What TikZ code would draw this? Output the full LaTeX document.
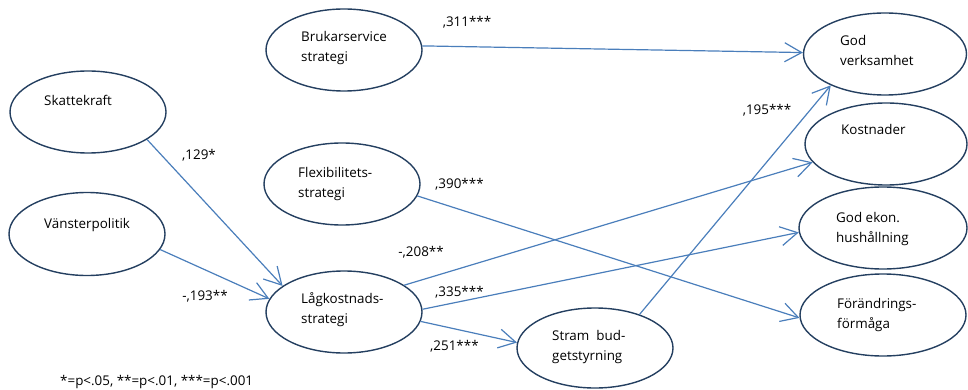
\documentclass[tikz,border=0pt]{standalone}
\usepackage{fontspec}
\setmainfont{Open Sans}
\usetikzlibrary{shapes.geometric,arrows.meta}
\definecolor{ellcol}{HTML}{243F60}
\definecolor{arrcol}{HTML}{4A7EBB}
\tikzset{
  ell/.style={ellipse,draw=ellcol,line width=1.4pt,inner sep=0pt,minimum width=156pt,minimum height=82pt},
  txt/.style={inner sep=0pt,align=left,anchor=base west,font=\fontsize{13.4}{20}\selectfont},
  lab/.style={inner sep=0pt,font=\fontsize{13.4}{20}\selectfont},
  conn/.style={draw=arrcol,line width=1.2pt,-{Straight Barb[length=17pt,width=19pt,line width=1.2pt]}}
}
\begin{document}
\begin{tikzpicture}[x=1pt,y=-1pt]
\useasboundingbox (0,0) rectangle (968,390);
\clip (0,0) rectangle (968,390);
% ellipses
\node[ell] (brk) at (344,50) {};
\node[ell] (skt) at (88,112) {};
\node[ell] (flx) at (342,184) {};
\node[ell,minimum height=83pt] (vns) at (87,234) {};
\node[ell] (lgk) at (344,312) {};
\node[ell,minimum height=80pt] (stb) at (595,348) {};
\node[ell,minimum width=163pt] (god) at (885,54) {};
\node[ell,minimum width=162pt] (kst) at (886,144) {};
\node[ell,minimum width=168pt] (gek) at (883,228) {};
\node[ell,minimum width=166pt] (frf) at (883,315) {};
% texts (base = last line)
\node[txt] (tbrk) at (301,62) {Brukarservice\\strategi};
\node[txt] (tskt) at (44,106) {Skattekraft};
\node[txt] (tflx) at (298,197) {Flexibilitets-\\strategi};
\node[txt] (tvns) at (44,228) {Vänsterpolitik};
\node[txt] (tlgk) at (301,323) {Lågkostnads-\\strategi};
\node[txt] (tstb) at (552,360) {Stram\ \ bud-\\getstyrning};
\node[txt] (tgod) at (840,66) {God\\verksamhet};
\node[txt] (tkst) at (841,135) {Kostnader};
\node[txt] (tgek) at (836,242) {God ekon.\\hushållning};
\node[txt] (tfrf) at (837,328) {Förändrings-\\förmåga};
% connectors
\draw[conn] (brk.3) -- (god.179);
\draw[conn] (skt.-25) -- (lgk.157);
\draw[conn] (vns.-12) -- (lgk.170);
\draw[conn] (flx.-9) -- (frf.182);
\draw[conn] (lgk.24) -- (kst.194);
\draw[conn] (lgk.2) -- (gek.183.5);
\draw[conn] (lgk.-7) -- (stb.176);
\draw[conn] (stb.37) -- (god.210);
% labels
\node[lab] (l311) at (467,22) {,311***};
\node[lab] (l129) at (199,155) {,129*};
\node[lab] (l193) at (205,296) {-,193**};
\node[lab,anchor=west] (l390) at (435,184) {,390***};
\node[lab] (l208) at (421,252) {-,208**};
\node[lab,anchor=west] (l335) at (435,292) {,335***};
\node[lab,anchor=west] (l251) at (430,346) {,251***};
\node[lab] (l195) at (767,110) {,195***};
\node[lab,anchor=base west] (note) at (60,385) {*=p<.05, **=p<.01, ***=p<.001};
\end{tikzpicture}
\end{document}
